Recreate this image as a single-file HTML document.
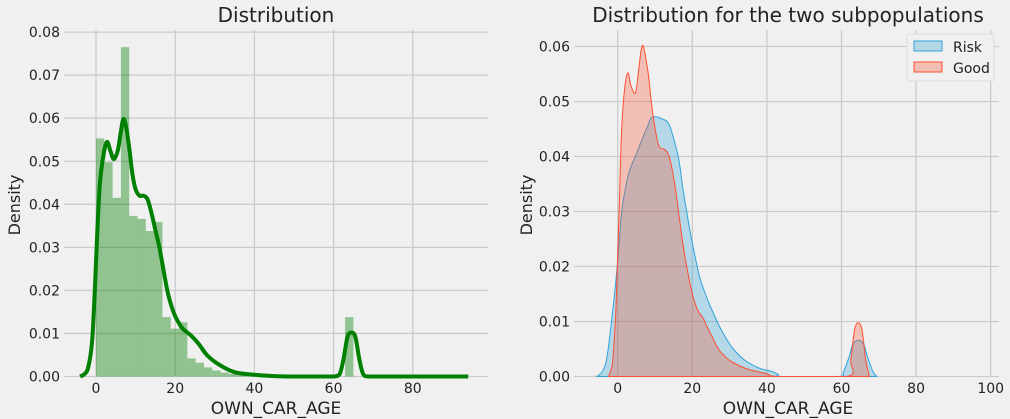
<!DOCTYPE html>
<html><head><meta charset="utf-8"><style>
body{margin:0;background:#f0f0f0;}
svg{display:block;font-family:"DejaVu Sans","Liberation Sans",sans-serif;}
</style></head><body>
<svg id="c" width="1010" height="419" viewBox="0 0 1010 419">
<rect width="1010" height="419" fill="#f0f0f0"/>
</svg>
<script>
// ---- data ----
const histValues=[0.0553,0.0498,0.0415,0.0765,0.0373,0.0366,0.0338,0.0359,0.0138,0.0111,0.0126,0.0042,0.0032,0.0021,0.0014,0.0009,0.0006,0.0004,0.0003,0.0002,0.0001,0.0001,0.0001,0.0001,0,0,0,0,0,0,0.0138];
const histStart=0, histBinWidth=65/31;
const kdeX=[-4,-3,-2,-1,-0.3,0.3,1,2,2.8,3.6,4.5,5.5,6.3,6.9,7.6,8.4,9.2,10,11,12,13,14,15,16,17,18,19,20,21,22,24,26,28,31,35,40,45,50,55,58,60,61.5,62.5,63.5,64.5,65.5,66.5,67.5,69,75,85,94];
const kdeY=[0,0.0005,0.002,0.008,0.02,0.033,0.045,0.052,0.0545,0.0525,0.0505,0.0525,0.057,0.0598,0.058,0.053,0.047,0.0435,0.042,0.042,0.0412,0.038,0.034,0.03,0.025,0.02,0.0165,0.014,0.0123,0.011,0.0095,0.0075,0.005,0.0028,0.001,0.0004,0.0001,0,0,0,0,0.0005,0.004,0.0092,0.0102,0.0092,0.004,0.0005,0,0,0,0];
const riskX=[-5.5,-4,-3,-2,-1,0,0.8,1.5,3,5,6.5,8,9,10.5,12,13,14,15.5,16.5,17.5,18.5,19.5,21,22,23.5,25,27,29,31,34,38,41,43,44,59,60.5,62,63,64.5,66,67,68.5,69.5];
const riskY=[0,0.001,0.003,0.008,0.014,0.021,0.028,0.032,0.037,0.0405,0.043,0.0455,0.047,0.0472,0.0468,0.0465,0.0455,0.042,0.039,0.034,0.03,0.026,0.021,0.018,0.015,0.0125,0.0095,0.007,0.005,0.003,0.0015,0.001,0.0004,0,0,0.0008,0.0035,0.0058,0.0066,0.0058,0.0035,0.0008,0];
const goodX=[-2.5,-1.5,-1,-0.5,0,0.5,1,1.8,2.7,3.5,4.7,5.5,6.2,6.8,7.5,8.3,9,9.8,11,12.5,13.5,14.5,15.5,16.5,17.5,18.5,20,21.5,23,24,25.5,27,29,31,35,40,43,61.5,62.5,63.5,64.5,65.5,66.5,67.5];
const goodY=[0,0.002,0.006,0.012,0.022,0.033,0.044,0.052,0.0552,0.053,0.0515,0.055,0.059,0.0602,0.058,0.0545,0.05,0.046,0.042,0.0413,0.0405,0.038,0.034,0.029,0.024,0.02,0.015,0.012,0.0105,0.009,0.007,0.005,0.0035,0.0025,0.0013,0.0005,0,0,0.003,0.0085,0.0098,0.0085,0.003,0];
const leftYTicks=[0,0.01,0.02,0.03,0.04,0.05,0.06,0.07,0.08];
const leftXTicks=[0,20,40,60,80];
const rightYTicks=[0,0.01,0.02,0.03,0.04,0.05,0.06];
const rightXTicks=[0,20,40,60,80,100];

const NS="http://www.w3.org/2000/svg";
const svg=document.getElementById('c');
function mk(tag,attrs,parent,text){const e=document.createElementNS(NS,tag);for(const k in attrs)e.setAttribute(k,attrs[k]);if(text!=null)e.textContent=text;(parent||svg).appendChild(e);return e;}

const L={x0:64,x1:488,y0:376.5,y1:20,xs:u=>96+u*3.96,ys:v=>376.5-v*4305};
const R={x0:574,x1:999,y0:376.5,y1:20,xs:u=>617.7+u*3.73,ys:v=>376.5-v*5500};

function smoothPath(xs,ys,ax,close){
  const p=xs.map((x,i)=>[ax.xs(x),ax.ys(ys[i])]);
  let d="M"+p[0][0]+","+p[0][1];
  for(let i=0;i<p.length-1;i++){
    const p0=p[i-1]||p[i],p1=p[i],p2=p[i+1],p3=p[i+2]||p2;
    const c1=[p1[0]+(p2[0]-p0[0])/6,p1[1]+(p2[1]-p0[1])/6];
    const c2=[p2[0]-(p3[0]-p1[0])/6,p2[1]-(p3[1]-p1[1])/6];
    d+=` C${c1[0]},${Math.min(c1[1],ax.y0)} ${c2[0]},${Math.min(c2[1],ax.y0)} ${p2[0]},${p2[1]}`;
  }
  if(close)d+=" Z";
  return d;
}
function axes(ax,yt,xt,name){
  const g=mk('g',{},svg);
  
  
  yt.forEach(v=>{
    const y=ax.ys(v);
    mk('line',{x1:ax.x0,x2:ax.x1,y1:y,y2:y,stroke:'#cbcbcb','stroke-width':1.3},g);
    const t=mk('text',{x:ax.x0-4,y:y+5,'text-anchor':'end','font-size':14,fill:'#222'},svg,v.toFixed(2));
    
    
  });
  xt.forEach(v=>{
    const x=ax.xs(v);
    mk('line',{x1:x,x2:x,y1:ax.y1+10,y2:ax.y0,stroke:'#cbcbcb','stroke-width':1.3},g);
    const t=mk('text',{x:x,y:393,'text-anchor':'middle','font-size':14,fill:'#222'},svg,String(v));
    
    
  });
}
axes(L,leftYTicks,leftXTicks,'left');
axes(R,rightYTicks,rightXTicks,'right');

histValues.forEach((v,i)=>{
  if(v<=0)return;
  const x=L.xs(histStart+i*histBinWidth),x2=L.xs(histStart+(i+1)*histBinWidth);
  const r=mk('rect',{x:x,y:L.ys(v),width:x2-x,height:L.ys(0)-L.ys(v),fill:'#008000','fill-opacity':0.4});
  
  
});
const kl=mk('path',{d:smoothPath(kdeX,kdeY,L),fill:'none',stroke:'#008000','stroke-width':4,'stroke-linejoin':'round'});



const rp=mk('path',{d:smoothPath(riskX,riskY,R,true),fill:'#30a2da','fill-opacity':0.3,stroke:'#30a2da','stroke-width':1});


const gp=mk('path',{d:smoothPath(goodX,goodY,R,true),fill:'#fc4f30','fill-opacity':0.3,stroke:'#fc4f30','stroke-width':1});



function txt(x,y,s,size,extra){return mk('text',Object.assign({x:x,y:y,'text-anchor':'middle','font-size':size,fill:'#222'},extra||{}),svg,s);}
let t;
t=txt(276,22,'Distribution',20);
t=txt(788,22,'Distribution for the two subpopulations',20);
t=txt(276,414,'OWN_CAR_AGE',17);
t=txt(788,414,'OWN_CAR_AGE',17);
t=txt(0,0,'Density',16,{transform:'translate(20,205) rotate(-90)'});
t=txt(0,0,'Density',16,{transform:'translate(532,205) rotate(-90)'});

const lg=mk('g',{});


mk('rect',{x:907,y:34,width:87,height:47,rx:3,fill:'#f0f0f0',stroke:'#dcdcdc'},lg);
const e1=mk('rect',{x:914,y:41,width:28,height:10,fill:'#30a2da','fill-opacity':0.3,stroke:'#30a2da'},lg);


const e2=mk('rect',{x:914,y:62,width:28,height:10,fill:'#fc4f30','fill-opacity':0.3,stroke:'#fc4f30'},lg);


const l1=mk('text',{x:953,y:52,'font-size':14,fill:'#222'},lg,'Risk');


const l2=mk('text',{x:953,y:73,'font-size':14,fill:'#222'},lg,'Good');


</script>
</body></html>
